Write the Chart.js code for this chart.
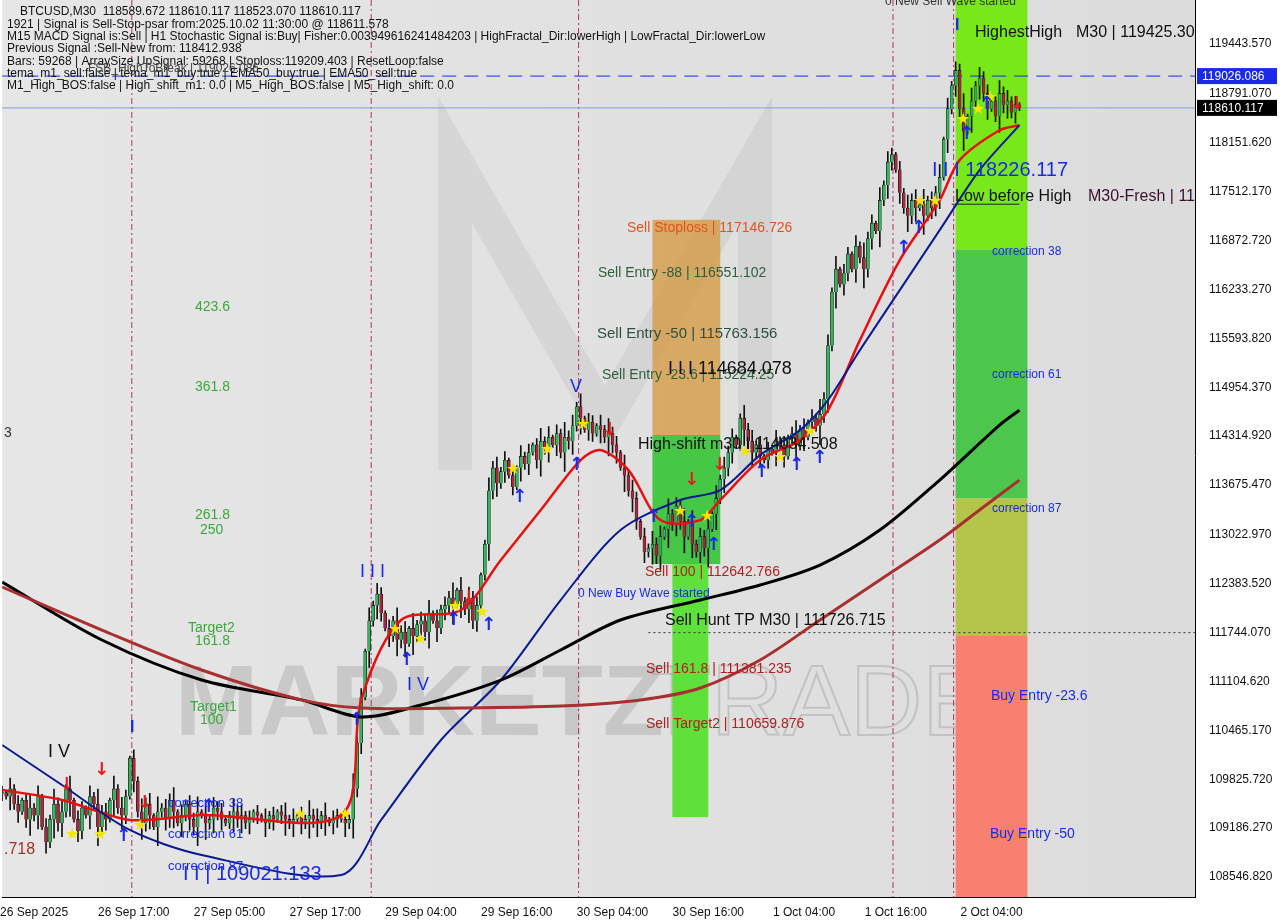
<!DOCTYPE html>
<html><head><meta charset="utf-8">
<script src="https://cdn.jsdelivr.net/npm/chart.js@4"></script>
<style>html,body{margin:0;padding:0;background:#fff}#wrap{width:1280px;height:920px}</style>
</head><body><div id="wrap"><canvas id="c" width="1280" height="920"></canvas></div>
<script>
const closes=[109650,109600,109700,109500,109400,109550,109300,109450,109350,109600,109200,109000,109300,109500,109250,109400,109700,109550,109300,109150,109450,109350,109600,109500,109200,109400,109300,109550,109700,109450,109350,109600,
110100,109800,109400,109250,109500,109350,109200,109400,
109450,109300,109550,109400,109250,109350,109500,109300,109200,109400,109350,109250,109300,109450,109400,109300,109250,109350,109400,109300,109350,109250,109300,109400,109350,109300,109250,109350,109300,109400,109350,109300,109250,109300,109350,109250,109300,109350,109300,109250,109350,109300,109250,109300,109350,109300,109250,109300,
109700,110300,110900,111500,111900,112100,112250,112000,111800,
111700,111900,111650,111750,111600,111800,111700,111850,111900,111750,112000,111900,111800,112050,112100,
112200,112100,112300,112150,112050,112200,111900,112100,112500,112900,
113600,113900,113700,113850,114000,113800,113650,113900,114050,113950,114100,114200,114000,
114250,114150,114300,114200,114350,114100,114300,114250,114450,114700,114550,114400,114500,114350,114450,
114400,114300,114350,114200,114100,113900,113800,113600,113500,113200,113000,112800,112850,
112900,112750,113000,113100,113300,113150,113400,113200,113000,113200,112900,112800,113000,112850,113100,113300,113500,
113750,113900,114100,114300,114200,114550,114400,114250,114100,114200,114050,114000,114150,114100,114250,114200,114050,114300,114350,114200,114400,114300,114500,114550,114450,114600,114800,
115500,116200,116500,116300,116450,116700,116500,116800,116650,116500,116900,117100,117000,117400,117600,117900,
118000,117800,117500,117300,117200,117400,117300,117350,117200,117400,117300,117500,117700,118200,118600,
118900,119100,118600,118300,118500,118700,118900,119000,118800,118600,118700,118500,118800,118650,118700,118550,118650,118610];
const wickDigits="3152413625142735261431527341625314263517243615243716253412635241";
const emaFastIdx=[0,15,32,50,85,90,100,115,125,135,145,150,157,165,175,180,190,200,207,215,225,235,240,250,255];
const emaFastVal=[109685,109555,109293,109359,109359,110864,111909,112040,112694,113348,114002,114133,113871,113217,113217,113479,114002,114263,114656,115571,116618,117403,117926,118318,118384];
const ema50Idx=[0,15,32,50,85,95,110,125,140,155,170,180,190,200,207,215,225,235,245,255];
const ema50Val=[110274,109751,109162,108835,108574,109293,110339,111124,112171,113086,113479,113609,114067,114394,114787,115441,116225,117010,117795,118384];
const ma100Idx=[0,25,50,75,90,105,125,140,155,175,190,205,220,235,250,255];
const ma100Val=[112406,111648,111124,110864,110640,110797,111124,111517,111909,112171,112367,112628,113086,113740,114460,114656];
const ma200Idx=[0,25,50,75,90,115,140,160,175,190,205,220,235,245,255];
const ma200Val=[112341,111778,111255,110864,110758,110758,110784,110864,111020,111386,111909,112432,112955,113348,113740];
const yTicks=[119443.570,118791.070,118151.620,117512.170,116872.720,116233.270,115593.820,114954.370,114314.920,113675.470,113022.970,112383.520,111744.070,111104.620,110465.170,109825.720,109186.270,108546.820];
const xTickIdx=[8,33,57,81,105,129,153,177,201,224,248];
const xTickText=["26 Sep 2025","26 Sep 17:00","27 Sep 05:00","27 Sep 17:00","29 Sep 04:00","29 Sep 16:00","30 Sep 04:00","30 Sep 16:00","1 Oct 04:00","1 Oct 16:00","2 Oct 04:00"];
const infoLines=["BTCUSD,M30  118589.672 118610.117 118523.070 118610.117",
"1921 | Signal is Sell-Stop-psar from:2025.10.02 11:30:00 @ 118611.578",
"M15 MACD Signal is:Sell | H1 Stochastic Signal is:Buy| Fisher:0.003949616241484203 | HighFractal_Dir:lowerHigh | LowFractal_Dir:lowerLow",
"Previous Signal :Sell-New from: 118412.938",
"Bars: 59268 | ArraySize UpSignal: 59268 | Stoploss:119209.403 | ResetLoop:false",
"tema_m1_sell:false | tema_m1_buy:true | EMA50_buy:true | EMA50_sell:true",
"M1_High_BOS:false | High_shift_m1: 0.0 | M5_High_BOS:false | M5_High_shift: 0.0"];
const N=300;
const labels=[...Array(N).keys()];
const body=[],wick=[],bcol=[];
closes.forEach((c,i)=>{const o=i?closes[i-1]:c;const w=(+wickDigits[i%64])*35;
 body.push([Math.min(o,c)-(o===c?10:0),Math.max(o,c)]);wick.push([Math.min(o,c)-w,Math.max(o,c)+w*0.8]);
 bcol.push(c>=o?'#2fb85a':'#a8283a');});
function sparse(ix,v){const a=new Array(N).fill(null);ix.forEach((k,j)=>a[k]=v[j]);return a;}
const lineDs=(d,c,w)=>({type:'line',data:d,borderColor:c,borderWidth:w,pointRadius:0,spanGaps:true,tension:0.3,order:0});
const YMIN=108285,YMAX=119849;
const deco={id:'deco',
beforeDatasetsDraw(ch){const ctx=ch.ctx,x=ch.scales.x,y=ch.scales.y,a=ch.chartArea;
 const X=i=>x.getPixelForValue(i),Y=p=>y.getPixelForValue(p);
 ctx.save();
 ctx.strokeStyle='rgba(185,185,185,0.3)';ctx.lineWidth=34;ctx.beginPath();
 ctx.moveTo(455,470);ctx.lineTo(455,160);ctx.lineTo(605,420);ctx.lineTo(755,160);ctx.lineTo(755,470);ctx.stroke();
 ctx.font='bold 100px Arial';ctx.fillStyle='rgba(140,140,140,0.3)';ctx.fillText('MARKETZI',175,735);
 ctx.font='100px Arial';ctx.strokeStyle='rgba(140,140,140,0.35)';ctx.lineWidth=2;ctx.strokeText('TRADE',650,735);
 const rect=(i1,i2,p1,p2,c)=>{ctx.fillStyle=c;ctx.fillRect(X(i1),Y(p1),X(i2)-X(i1),Y(p2)-Y(p1));};
 rect(163,180,117146,114330,'rgba(214,150,60,0.75)');
 rect(163,180,114330,112642,'#46c846');
 rect(168,177,112642,109330,'#5fe03a');
 ctx.fillStyle='#78e81a';ctx.fillRect(X(239),0,X(257)-X(239),Y(116750));
 rect(239,257,116750,113500,'#4cc64c');
 rect(239,257,113500,111700,'#b4c64a');
 rect(239,257,111700,YMIN,'#f7806e');
 ctx.strokeStyle='#b0306c';ctx.lineWidth=1;ctx.setLineDash([6,3,2,3]);
 [32.5,92.5,144.5,223.3,238.5].forEach(i=>{ctx.beginPath();ctx.moveTo(X(i),0);ctx.lineTo(X(i),a.bottom);ctx.stroke();});
 ctx.setLineDash([14,8]);ctx.strokeStyle='#1a2ae8';ctx.beginPath();ctx.moveTo(a.left,Y(119026.086));ctx.lineTo(a.right,Y(119026.086));ctx.stroke();
 ctx.setLineDash([]);ctx.strokeStyle='#7aa0e0';ctx.beginPath();ctx.moveTo(a.left,Y(118610.117));ctx.lineTo(a.right,Y(118610.117));ctx.stroke();
 ctx.setLineDash([2,3]);ctx.strokeStyle='#333';ctx.beginPath();ctx.moveTo(X(162),Y(111744));ctx.lineTo(a.right,Y(111744));ctx.stroke();
 ctx.setLineDash([]);ctx.strokeStyle='#222';ctx.beginPath();ctx.moveTo(X(238),Y(117350));ctx.lineTo(X(255),Y(117350));ctx.stroke();
 ctx.restore();},
afterDatasetsDraw(ch){const ctx=ch.ctx,y=ch.scales.y;ctx.save();
 const T=(s,px,py,c,f)=>{ctx.font=f||'14px Arial';ctx.fillStyle=c;ctx.fillText(s,px,py);};
 ctx.textBaseline='middle';
 infoLines.forEach((s,k)=>T(s,k?7:20,12+k*12.3,'#111','12px Arial'));
 T('FSB_HighToBreak | 119026.086',88,69,'#444','12px Arial');
 T('0 New Sell Wave started',885,2,'#333','12px Arial');
 T('I',955,26,'#1a2ae8','bold 16px Arial');
 T('HighestHigh',975,33,'#111','16px Arial');T('M30 | 119425.30',1076,33,'#111','16px Arial');
 T('I I I 118226.117',932,170,'#1a2ae8','20px Arial');
 T('Low before High',955,197,'#111','16px Arial');T('M30-Fresh | 11',1088,197,'#3a1030','16px Arial');
 T('correction 38',992,252,'#1a2ae8','12px Arial');T('correction 61',992,375,'#1a2ae8','12px Arial');T('correction 87',992,509,'#1a2ae8','12px Arial');
 T('Buy Entry -23.6',991,696,'#1a2ae8');T('Buy Entry -50',990,834,'#1a2ae8');
 T('Sell Stoploss | 117146.726',627,228,'#e8501a');
 T('Sell Entry -88 | 116551.102',598,273,'#2e5e3e');
 T('Sell Entry -50 | 115763.156',597,334,'#2e4e3e','15px Arial');
 T('Sell Entry -23.6 | 115224.25',602,375,'#2e5e3e');
 T('I I I 114684.078',668,369,'#111','18px Arial');
 T('High-shift m30 | 114034.508',638,445,'#111','16px Arial');
 T('Sell 100 | 112642.766',645,572,'#b02020');
 T('0 New Buy Wave started',578,594,'#1a2ae8','12px Arial');
 T('Sell Hunt TP M30 | 111726.715',665,621,'#111','16px Arial');
 T('Sell 161.8 | 111381.235',646,669,'#b02020');
 T('Sell Target2 | 110659.876',646,724,'#b02020');
 [['423.6',195,307],['361.8',195,387],['261.8',195,515],['250',200,530],['Target2',188,628],['161.8',195,641],['Target1',190,707],['100',200,720]].forEach(v=>T(v[0],v[1],v[2],'#3aa83a'));
 T('3',4,433,'#333');T('.718',4,850,'#a03030','16px Arial');
 T('I V',48,752,'#111','18px Arial');T('I',130,728,'#1a2ae8','bold 16px Arial');
 T('I I I',360,572,'#1a2ae8','18px Arial');T('I V',407,685,'#1a2ae8','18px Arial');T('V',570,387,'#1a2ae8','18px Arial');
 T('correction 38',168,803,'#1a2ae8','13px Arial');T('correction 61',168,834,'#1a2ae8','13px Arial');T('correction 87',168,866,'#1a2ae8','13px Arial');
 T('I I | 109021.133',183,874,'#1a2ae8','20px Arial');
 const st=[[72,835],[100,835],[140,826],[300,815],[345,815],[395,630],[420,640],[455,607],[482,613],[513,470],[547,450],[583,425],[680,512],[707,517],[745,452],[780,458],[810,432],[920,202],[935,202],[963,120],[978,110],[990,98]];
 st.forEach(p=>T('★',p[0]-7,p[1],'#f5e600','16px DejaVu Sans'));
 const up=[[122,836],[207,807],[355,720],[405,660],[452,620],[487,625],[518,497],[575,465],[652,517],[690,522],[712,545],[760,472],[795,465],[818,458],[902,248],[917,228],[965,134],[985,104]];
 up.forEach(p=>T('↑',p[0]-6,p[1],'#1a2ae8','bold 18px DejaVu Sans'));
 const dn=[[65,785],[100,770],[143,803],[467,598],[608,430],[690,480],[718,465],[1015,104]];
 dn.forEach(p=>T('↓',p[0]-6,p[1],'#e81a1a','bold 18px DejaVu Sans'));
 const box=(p,bg)=>{const py=y.getPixelForValue(p);ctx.fillStyle=bg;ctx.fillRect(1197,py-8,80,16);ctx.fillStyle='#fff';ctx.font='12px Arial';ctx.fillText(p.toFixed(3),1202,py+1);};
 box(119026.086,'#1a2ae8');box(118610.117,'#000');
 ctx.restore();}
};
new Chart(document.getElementById('c'),{
 type:'bar',
 data:{labels,datasets:[
  {data:wick,backgroundColor:'#111',barThickness:1,grouped:false,order:3},
  {data:body,backgroundColor:bcol,borderColor:'#111',borderWidth:0.6,barThickness:3,grouped:false,order:2},
  lineDs(sparse(ma200Idx,ma200Val),'#a83030',3),
  lineDs(sparse(ma100Idx,ma100Val),'#000',3),
  lineDs(sparse(ema50Idx,ema50Val),'#0a1a90',2),
  lineDs(sparse(emaFastIdx,emaFastVal),'#e81010',2.5)
 ]},
 options:{responsive:false,animation:false,maintainAspectRatio:false,
  layout:{padding:{left:2,top:0,right:0,bottom:0}},
  plugins:{legend:{display:false},tooltip:{enabled:false}},
  scales:{
   x:{offset:false,min:0,max:N-1,grid:{display:false},border:{color:'#000'},
      afterBuildTicks(s){s.ticks=xTickIdx.map(v=>({value:v}));},
      ticks:{autoSkip:false,maxRotation:0,padding:0,color:'#111',font:{size:12,family:'Arial'},callback:(v)=>xTickText[xTickIdx.indexOf(v)]},
      afterFit(s){s.height=23;}},
   y:{position:'right',min:YMIN,max:YMAX,grid:{display:false},border:{color:'#000'},
      afterBuildTicks(s){s.ticks=yTicks.map(v=>({value:v}));},
      ticks:{color:'#111',font:{size:12,family:'Arial'},padding:6,callback:v=>v.toFixed(3)},
      afterFit(s){s.width=85;}}
  }},
 plugins:[{id:'bg',beforeDraw(ch){const a=ch.chartArea,c=ch.ctx;const g=c.createLinearGradient(a.left,0,a.right,0);g.addColorStop(0,'#e6e6e6');g.addColorStop(1,'#dcdcdc');c.fillStyle=g;c.fillRect(a.left,0,a.right-a.left,a.bottom);c.strokeStyle='#000';c.beginPath();c.moveTo(a.right+0.5,0);c.lineTo(a.right+0.5,a.top);c.stroke();}},deco]
});
</script></body></html>
